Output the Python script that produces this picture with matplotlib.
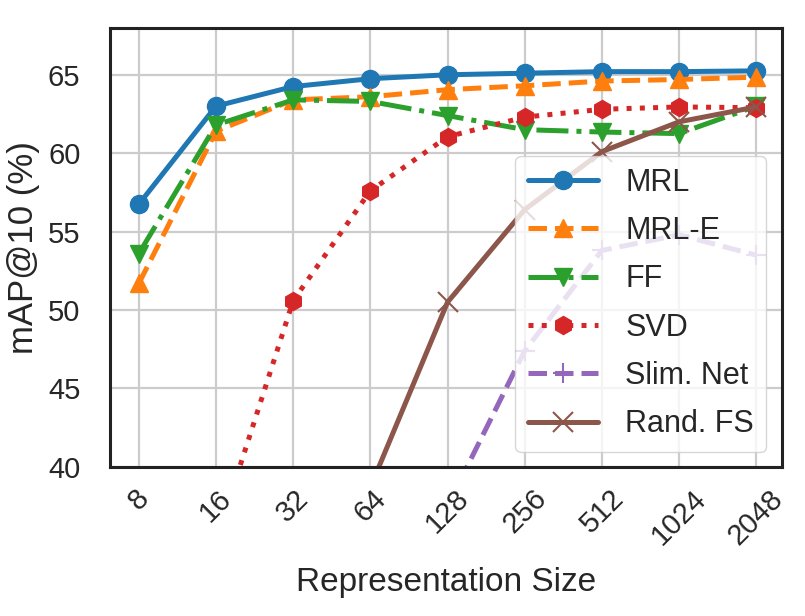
import matplotlib
matplotlib.use("Agg")
import matplotlib.pyplot as plt
import seaborn as sns
import numpy as np

sns.set_style("whitegrid")
plt.rcParams['font.family'] = ['Liberation Sans', 'DejaVu Sans']

sizes = ["8", "16", "32", "64", "128", "256", "512", "1024", "2048"]
mrl = [56.75, 63.0, 64.25, 64.75, 65.0, 65.1, 65.2, 65.2, 65.25]
mrl_e = [51.7, 61.4, 63.4, 63.6, 64.05, 64.3, 64.6, 64.7, 64.85]
ff = [53.6, 61.8, 63.4, 63.3, 62.4, 61.5, 61.35, 61.25, 63.0]
svd = [None, 35.3, 50.6, 57.6, 61.05, 62.3, 62.8, 62.95, 62.9]
slim = [None, None, None, None, 37.5, 47.4, 53.8, 54.8, 53.5]
rand_fs = [None, None, None, 38.7, 50.5, 56.4, 60.1, 62.0, 62.95]

def arr(v):
    return np.array([np.nan if x is None else x for x in v], dtype=float)

x = np.arange(len(sizes))

fig = plt.figure(figsize=(8.05, 6.16), dpi=100)
ax = fig.add_axes([0.137, 0.242, 0.834, 0.713])

lw = 3.6
ms = 13
ax.plot(x, arr(mrl), color="#1f77b4", linestyle="-", marker="o", markersize=ms, lw=lw, label="MRL")
ax.plot(x, arr(mrl_e), color="#ff7f0e", linestyle="--", marker="^", markersize=ms, lw=lw, label="MRL-E")
ax.plot(x, arr(ff), color="#2ca02c", linestyle="-.", marker="v", markersize=ms, lw=lw, label="FF")
ax.plot(x, arr(svd), color="#d62728", linestyle=":", marker="h", markersize=ms, lw=lw, label="SVD")
ax.plot(x, arr(slim), color="#9467bd", linestyle="--", marker="+", markersize=15, mew=1.5, lw=lw, label="Slim. Net")
ax.plot(x, arr(rand_fs), color="#8c564b", linestyle="-", marker="x", markersize=15, mew=1.5, lw=lw, label="Rand. FS")

ax.set_xlim(-0.37, 8.33)
ax.set_ylim(40, 68)
ax.set_yticks([40, 45, 50, 55, 60, 65])
ax.set_xticks(x)
ax.set_xticklabels(sizes, rotation=45, fontsize=21)
ax.tick_params(axis='y', labelsize=21, pad=18)
ax.tick_params(axis='x', pad=9)
ax.set_xlabel("Representation Size", fontsize=24, labelpad=12)
ax.set_ylabel("mAP@10 (%)", fontsize=25, labelpad=6)

for s in ax.spines.values():
    s.set_color("#222222")
    s.set_linewidth(2.2)
ax.grid(True, color="#cccccc", linewidth=1.6)

leg = ax.legend(loc="lower right", fontsize=22, handlelength=2.3, handletextpad=0.9,
                framealpha=0.8, borderpad=0.4, labelspacing=0.6)
leg.get_frame().set_edgecolor("#cccccc")

fig.savefig("out.png", dpi=100)
